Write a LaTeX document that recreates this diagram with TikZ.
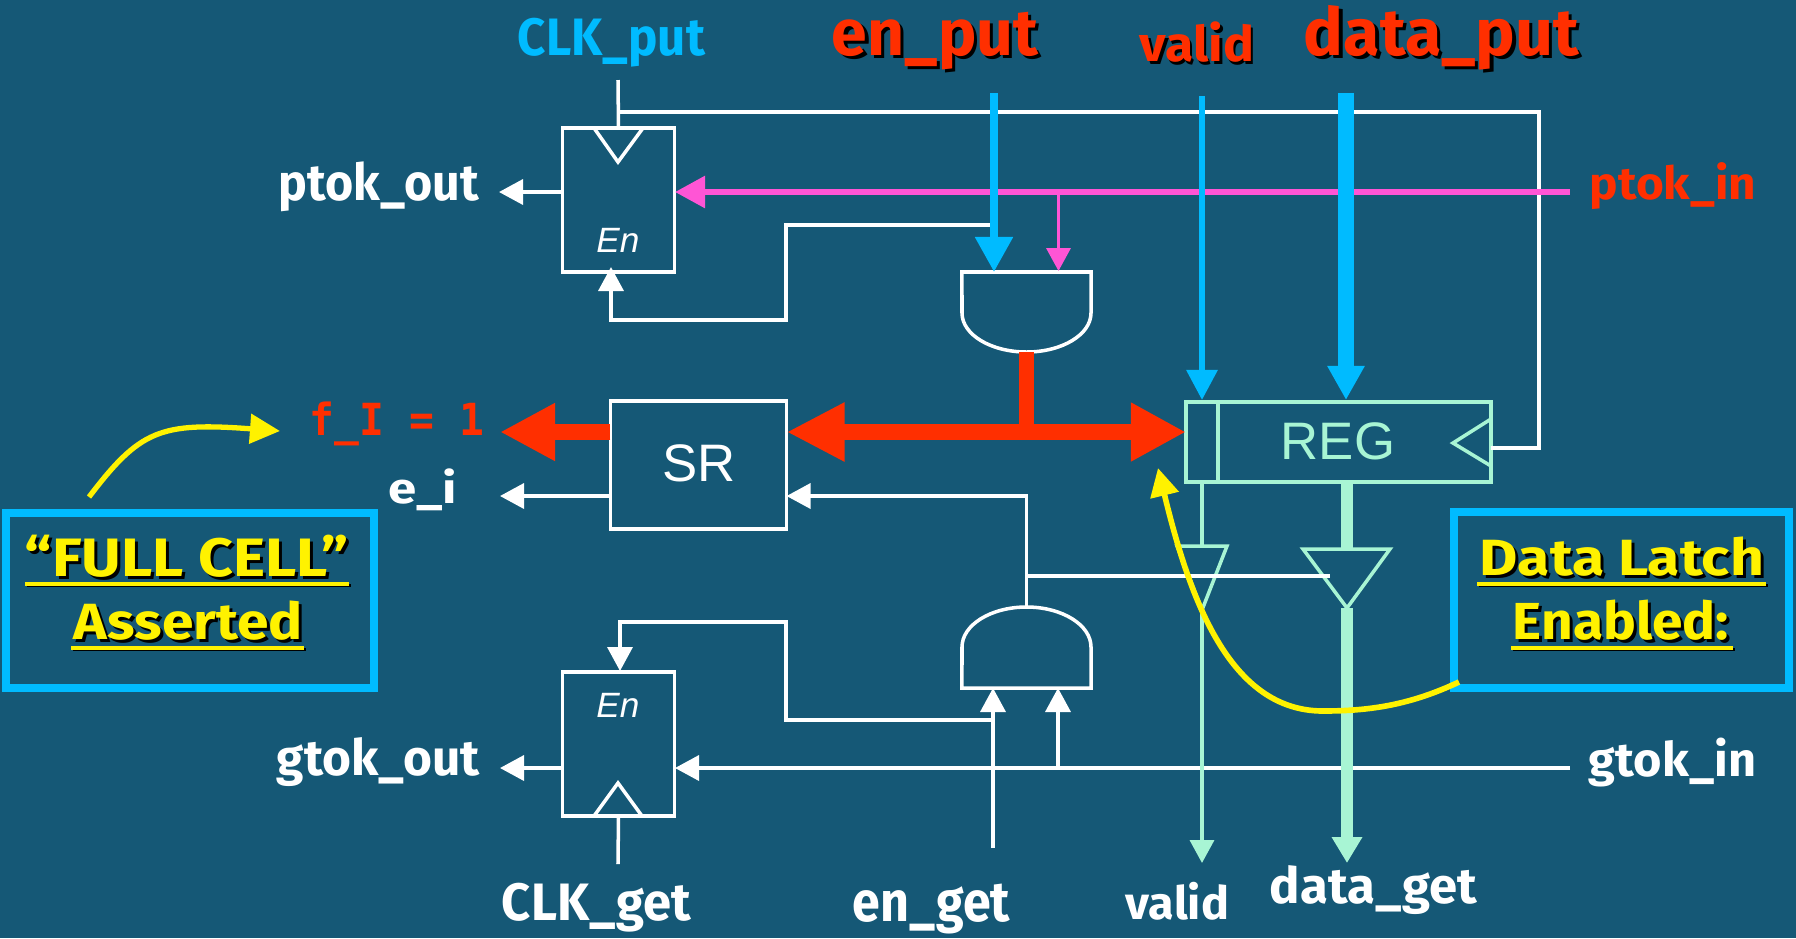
\documentclass[tikz,border=0pt]{standalone}
\usepackage{graphicx}
\usepackage{fontspec}
\usepackage{tikz}
\usetikzlibrary{arrows.meta}
\setmainfont{Fira Sans}
\newfontfamily\gatefont{Liberation Sans}
\newfontfamily\flagfont{DejaVu Sans Mono}
\definecolor{bgblue}{RGB}{21,88,118}
\definecolor{sigred}{RGB}{255,47,0}
\definecolor{sigcyan}{RGB}{0,187,255}
\definecolor{sigpink}{RGB}{255,85,213}
\definecolor{sigmint}{RGB}{168,245,212}
\newcommand{\lab}[3]{\resizebox*{#1}{#2}{\bfseries #3}}
\newcommand{\shlab}[3]{\resizebox*{#1}{#2}{\bfseries\rlap{\kern.5pt\raisebox{-.5pt}{\color{black}#3}}#3}}

\begin{document}
\begin{tikzpicture}[x=0.01cm, y=-0.01cm]
\tikzstyle{every node} = [inner sep=0, outer sep=0]
\tikzstyle{wire} = [draw=white, line width=1pt]
\tikzstyle{wtip} = [-{Triangle[length=.24cm, width=.25cm]}]
\tikzstyle{mintw} = [draw=sigmint, line width=1pt]
\tikzstyle{ffbox} = [draw=white, line width=1.05pt, minimum width=1.12cm, minimum height=1.44cm]
\tikzstyle{gate} = [minimum width=1.29cm]
\tikzstyle{callbox} = [draw=sigcyan, line width=.08cm]
\tikzstyle{gatetxt} = [font=\gatefont\fontsize{15}{15}\selectfont]
\tikzstyle{entxt} = [white, font=\gatefont\itshape\fontsize{10}{10}\selectfont]
\useasboundingbox (0,0) rectangle (1796,938);
\fill[bgblue] (0,0) rectangle (1796,938);

% labels
\node[sigcyan] (cp) at (611.5,42.5) {\lab{1.87cm}{.49cm}{CLK\_put}};
\node[sigred] (ep) at (935,42.5) {\shlab{2.06cm}{.61cm}{en\_put}};
\node[sigred] (vp) at (1197,43.5) {\shlab{1.14cm}{.43cm}{valid}};
\node[sigred] (dp) at (1441.5,39) {\shlab{2.75cm}{.68cm}{data\_put}};
\node[sigred] (pi) at (1673,186.5) {\lab{1.66cm}{.47cm}{ptok\_in}};
\node[white] (po) at (379,187) {\lab{2.00cm}{.50cm}{ptok\_out}};
\node[sigred] (fi) at (397,424) {\resizebox*{1.74cm}{.44cm}{\flagfont\bfseries f\_I = 1}};
\node[white] (ei) at (423,490) {\lab{.68cm}{.42cm}{e\_i}};
\node[white] (go) at (378.5,762.5) {\lab{2.03cm}{.49cm}{gtok\_out}};
\node[white] (gi) at (1672.5,762.5) {\lab{1.67cm}{.49cm}{gtok\_in}};
\node[white] (cg) at (596.5,907.5) {\lab{1.89cm}{.49cm}{CLK\_get}};
\node[white] (eg) at (931.5,909) {\lab{1.57cm}{.50cm}{en\_get}};
\node[white] (vg) at (1177.5,901) {\lab{1.03cm}{.38cm}{valid}};
\node[white] (dg) at (1373.5,890.5) {\lab{2.07cm}{.49cm}{data\_get}};
\node[yellow] (fc) at (187,557.5) {\shlab{3.24cm}{.45cm}{“FULL CELL”}};
\node[yellow] (as) at (188.5,622) {\shlab{2.29cm}{.42cm}{Asserted}};
\node[yellow] (dl) at (1622,558) {\shlab{2.84cm}{.42cm}{Data Latch}};
\node[yellow] (en) at (1621,621.5) {\shlab{2.16cm}{.43cm}{Enabled:}};

% boxes
\node[ffbox] (pf) at (618.5,200) {};
\node[ffbox] (gf) at (618.5,744) {};
\node[ffbox, minimum width=1.76cm, minimum height=1.285cm] (sr) at (698.5,465) {};
\node[draw=sigmint, line width=1pt, minimum width=3.05cm, minimum height=.8cm] (rg) at (1338.5,442) {};
\node[gate, minimum height=.8cm] (ap) at (1026.5,312) {};
\node[gate, minimum height=.81cm] (ag) at (1026.5,647.5) {};
\node[callbox, minimum width=3.68cm, minimum height=1.75cm] (fb) at (190,600.5) {};
\node[callbox, minimum width=3.35cm, minimum height=1.76cm] (db) at (1621.5,600) {};
\node[white, gatetxt] (srt) at (699,463) {SR};
\node[sigmint, gatetxt] (rgt) at (1338,441) {REG};
\node[entxt] (pen) at (618,240) {En};
\node[entxt] (gen) at (618,705) {En};

% gates and clock marks
\draw[wire] (ap.north east) -- (ap.north west) -- (962,313) arc[start angle=180, end angle=0, x radius=64.5, y radius=39] -- cycle;
\draw[wire] (ag.south east) -- (ag.south west) -- (962,647) arc[start angle=180, end angle=360, x radius=64.5, y radius=40] -- cycle;
\draw[wire] (594,128) -- (618,162) -- (643,128);
\draw[wire] (594,816) -- (618,783) -- (642,816);
\draw[mintw] (1218,402) -- (1218,482);
\draw[mintw] (1491,419) -- (1453,443) -- (1491,466);
\draw[mintw] (1177,546) -- (1227,546) -- (1202,610) -- cycle;
\draw[mintw] (1303,549) -- (1390,549) -- (1347,608) -- cycle;

% signal points
\coordinate (pin) at (1570,192);
\coordinate (pe) at (675,192);
\coordinate (pw) at (562,192);
\coordinate (ptip) at (499,192);
\coordinate (eis) at (610,496);
\coordinate (eit) at (500,496);
\coordinate (gin) at (1570,768);
\coordinate (ge) at (675,768);
\coordinate (gw) at (562,768);
\coordinate (gtip) at (500,768);
\coordinate (egs) at (993,848);
\coordinate (egt) at (993,688);
\coordinate (gbs) at (1058,768);
\coordinate (gbt) at (1058,688);
\coordinate (cps) at (618,80);
\coordinate (cgs) at (618,864);

% white wires
\foreach \from/\to in {pw/ptip, eis/eit, gw/gtip, gin/ge, egs/egt, gbs/gbt}
\draw [wire, wtip] (\from) -- (\to);
\draw[wire] (cps) -- (pf.north);
\draw[wire] (cgs) -- (gf.south);
\draw[wire] (618,112) -| (1539,448) -- (1491,448);
\draw[wire, wtip] (994,225) -| (786,320) -| (611,267);
\draw[wire, wtip] (993,720) -| (786,622) -| (620,671);
\draw[wire, wtip] (ag.north) |- (sr.east |- eis);
\draw[wire] (1026.5,576) -- (1330,576);

% pink token
\draw[draw=sigpink, line width=1.65pt, -{Triangle[length=.3cm, width=.31cm]}] (pin) -- (pe);
\draw[draw=sigpink, line width=1pt, -{Triangle[length=.23cm, width=.24cm]}] (1058.5,192) -- (1058.5,271);

% put side
\draw[draw=sigcyan, line width=2.3pt, -{Triangle[length=.35cm, width=.36cm]}] (994,93) -- (994,272);
\draw[draw=sigcyan, line width=1.7pt, -{Triangle[length=.3cm, width=.3cm]}] (1202,96) -- (1202,400);
\draw[draw=sigcyan, line width=4.5pt, -{Triangle[length=.34cm, width=.35cm]}] (1346,93) -- (1346,400);

% get side
\draw[mintw] (1202,482) -- (1202,546);
\draw[mintw, -{Triangle[length=.23cm, width=.24cm]}] (1202,610) -- (1202,863);
\draw[draw=sigmint, line width=3.3pt] (1347,482) -- (1347,549);
\draw[draw=sigmint, line width=3.3pt, -{Triangle[length=.26cm, width=.29cm]}] (1347,608) -- (1347,863);

% bus
\draw[draw=sigred, line width=4.5pt, {Triangle[length=.58cm, width=.55cm]}-{Triangle[length=.55cm, width=.55cm]}] (sr.east |- 0,432) -- (rg.west |- 0,432);
\draw[draw=sigred, line width=4.5pt] (ap.south) -- (1026.5,432);
\draw[draw=sigred, line width=4.5pt, -{Triangle[length=.55cm, width=.54cm]}] (sr.west |- 0,432) -- (500,432);

% underlines
\foreach \a/\b/\c in {25/349/584, 71/304/648, 1477/1766/584, 1511/1733/648} {
\draw[black, line width=1.1pt] (\a+1.5,\c+1.5) -- (\b+1.5,\c+1.5);
\draw[yellow, line width=1.1pt] (\a,\c) -- (\b,\c);
}

% notes
\draw[draw=yellow, line width=1.5pt, -{Triangle[length=.3cm, width=.29cm]}] (89,497) .. controls (140,430) and (160,422) .. (280,431);
\draw[draw=yellow, line width=1.6pt, -{Triangle[length=.28cm, width=.28cm]}] (1459,682) .. controls (1410,705) and (1370,711) .. (1323,711) .. controls (1230,711) and (1190,600) .. (1158,468);
\end{tikzpicture}
\end{document}
